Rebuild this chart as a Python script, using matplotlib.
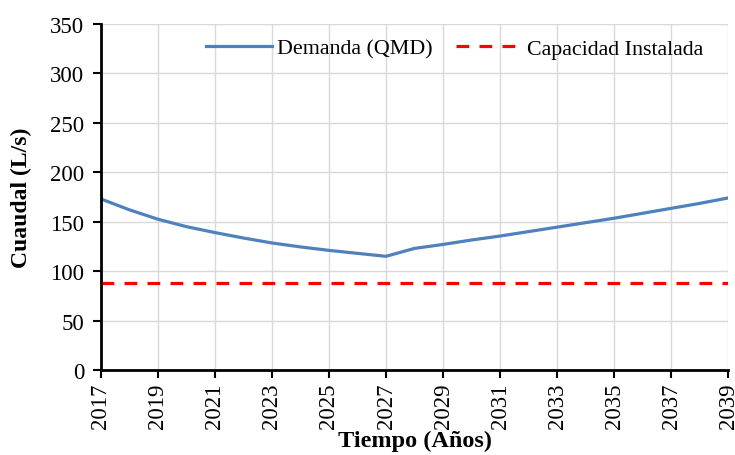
import matplotlib
matplotlib.use("Agg")
import matplotlib.pyplot as plt

years = list(range(2017, 2040))
demanda = [173, 162, 152.5, 145, 139, 133.5, 128.5, 124.5, 121, 118, 115,
           123, 127, 131.5, 135.5, 140, 144.5, 149, 153.5, 158.5, 163.5, 168.5, 174]
capacidad = [88] * len(years)
x_ticks = list(range(2017, 2040, 2))
y_ticks = list(range(0, 351, 50))

plt.rcParams["font.family"] = ["Liberation Serif", "DejaVu Serif"]

fig = plt.figure(figsize=(7.35, 4.56), dpi=100)
ax = fig.add_axes([0.1374, 0.1864, 0.8531, 0.7588])

ax.plot(years, demanda, color="#4F81BD", linewidth=2.3, label="Demanda (QMD)")
ax.plot(years, capacidad, color="#FF0000", linewidth=2.3, linestyle=(0, (4, 3.2)),
        label="Capacidad Instalada")

ax.set_xlim(2017, 2039)
ax.set_ylim(0, 350)
ax.set_xticks(x_ticks)
ax.set_yticks(y_ticks)
ax.set_xticklabels([str(t) for t in x_ticks], rotation=90)
ax.tick_params(axis="both", labelsize=16.5, direction="out", length=6, width=1.5,
               color="black")
ax.tick_params(axis="y", pad=6)
ax.tick_params(axis="x", pad=3)
ax.grid(True, color="#d9d9d9", linewidth=1)
ax.set_axisbelow(True)

for side in ("top", "right"):
    ax.spines[side].set_visible(False)
for side in ("left", "bottom"):
    ax.spines[side].set_linewidth(2)
    ax.spines[side].set_color("black")

ax.set_xlabel("Tiempo (Años)", fontsize=17.5, fontweight="bold", labelpad=1)
ax.set_ylabel("Cuaudal (L/s)", fontsize=17, fontweight="bold", labelpad=13)

ax.legend(loc="upper right", bbox_to_anchor=(0.96, 0.958), ncol=2, frameon=False,
          borderaxespad=0, borderpad=0, fontsize=15.8, handlelength=3.0,
          handletextpad=0.2, columnspacing=1.1)

fig.savefig("out.png", dpi=100)
